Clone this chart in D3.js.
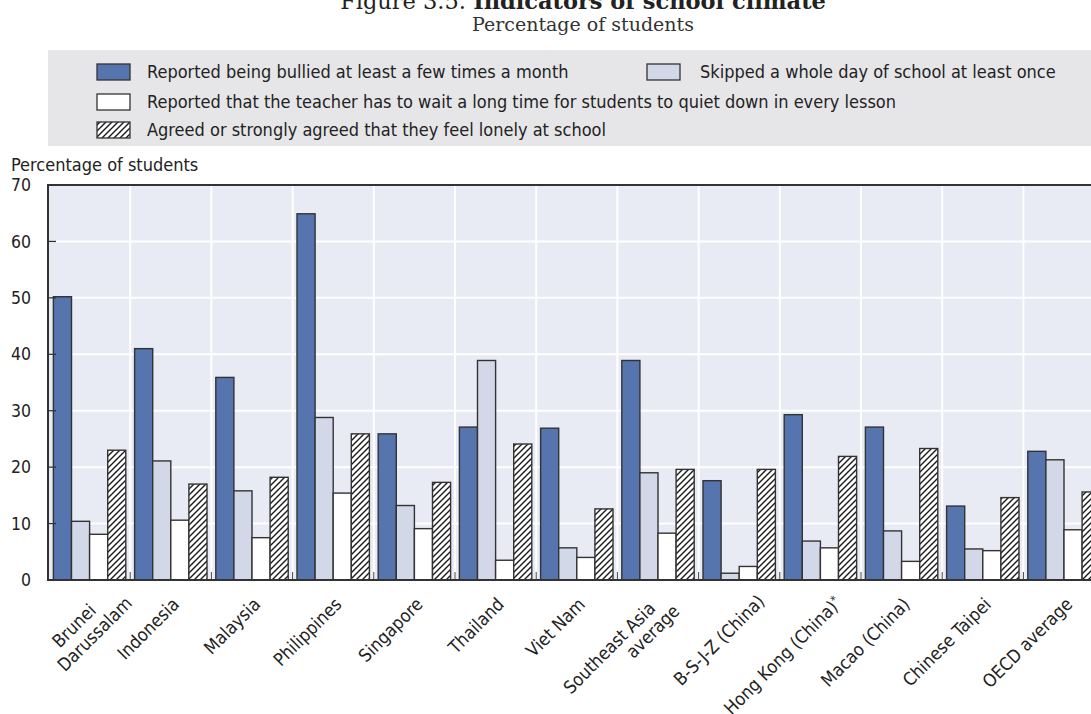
<!DOCTYPE html>
<html><head><meta charset="utf-8">
<script src="https://cdn.jsdelivr.net/npm/d3@7"></script>
<style>
body{margin:0;background:#fff;}
svg{display:block;}
.sans{font-family:"Liberation Sans Narrow","DejaVu Sans Condensed","Roboto",sans-serif;font-stretch:condensed;}
</style></head>
<body><svg id="c" width="1091" height="714"></svg>
<script>
const categories = ["Brunei|Darussalam","Indonesia","Malaysia","Philippines","Singapore","Thailand","Viet Nam","Southeast Asia|average","B-S-J-Z (China)","Hong Kong (China)*","Macao (China)","Chinese Taipei","OECD average"];
const bullied = [50.2,41.0,35.9,64.9,25.9,27.1,26.9,38.9,17.6,29.3,27.1,13.1,22.8];
const skipped = [10.4,21.1,15.8,28.8,13.2,38.9,5.7,19.0,1.2,6.9,8.7,5.5,21.3];
const waitLong = [8.1,10.6,7.5,15.4,9.1,3.5,4.0,8.3,2.4,5.7,3.3,5.2,8.9];
const lonely = [23.0,17.0,18.2,25.9,17.3,24.1,12.6,19.6,19.6,21.9,23.3,14.6,15.6];
const seriesNames = ["Reported being bullied at least a few times a month","Skipped a whole day of school at least once","Reported that the teacher has to wait a long time for students to quiet down in every lesson","Agreed or strongly agreed that they feel lonely at school"];
const yTicks = [0,10,20,30,40,50,60,70];

const fills = ["#5674ad","#d2d8e8","#ffffff","url(#hatch)"];
const seriesVals = [bullied, skipped, waitLong, lonely];

const svg = d3.select("#c");
const defs = svg.append("defs");
const P = 6;
const pat = defs.append("pattern").attr("id","hatch").attr("patternUnits","userSpaceOnUse")
  .attr("width",P).attr("height",P);
pat.append("rect").attr("width",P).attr("height",P).attr("fill","#fff");
pat.append("path").attr("d",`M-1,${P+1} L${P+1},-1 M-1,1 L1,-1 M${P-1},${P+1} L${P+1},${P-1}`).attr("stroke","#1a1a1a").attr("stroke-width",1.4);

// Title (cut at the top edge as in the reference)
const serif = "'DejaVu Serif','Liberation Serif',serif";
const title = svg.append("text").attr("x",583).attr("y",9).attr("text-anchor","middle")
  .style("font-family",serif).style("font-size","22.5px").attr("fill","#222");
title.append("tspan").text("Figure 3.5. ");
title.append("tspan").attr("font-weight","bold").text("Indicators of school climate");
svg.append("text").attr("x",583).attr("y",31).attr("text-anchor","middle")
  .style("font-family",serif).style("font-size","19px").attr("fill","#333")
  .text("Percentage of students");

// Legend
svg.append("rect").attr("x",48).attr("y",50).attr("width",1043).attr("height",96).attr("fill","#e6e6e8");
const legItems = [
  {i:0,x:97,tx:147,y:72},{i:1,x:647,tx:700,y:72},{i:2,x:97,tx:147,y:102},{i:3,x:97,tx:147,y:130}
];
const leg = svg.append("g").attr("class","sans");
legItems.forEach(d=>{
  leg.append("rect").attr("x",d.x).attr("y",d.y-8).attr("width",33).attr("height",16)
    .attr("fill",fills[d.i]).attr("stroke","#333").attr("stroke-width",1.3);
  leg.append("text").attr("x",d.tx).attr("y",d.y).attr("dy","0.35em")
    .style("font-size","18px").attr("fill","#222").text(seriesNames[d.i]);
});

// Scales
const y = d3.scaleLinear().domain([0,70]).range([580,185]);
const x0 = d3.scaleBand().domain(d3.range(categories.length)).range([49, 49+13*81.2]).paddingInner(0).paddingOuter(0);
const x1 = d3.scaleBand().domain(d3.range(4)).range([0, x0.bandwidth()]).paddingInner(0).paddingOuter(0.243);

// plot bg
svg.append("rect").attr("x",48).attr("y",y(70)).attr("width",1091-48).attr("height",y(0)-y(70)).attr("fill","#e8eaf4");
// gridlines
svg.append("g").selectAll("line").data(yTicks.slice(1,-1)).join("line")
  .attr("x1",48).attr("x2",1091).attr("y1",d=>y(d)).attr("y2",d=>y(d)).attr("stroke","#fff").attr("stroke-width",2);
svg.append("g").selectAll("line").data(d3.range(1,categories.length)).join("line")
  .attr("x1",d=>x0(d)).attr("x2",d=>x0(d)).attr("y1",y(70)).attr("y2",y(0)).attr("stroke","#fff").attr("stroke-width",2);

// bars
const g = svg.append("g");
categories.forEach((c,ci)=>{
  seriesVals.forEach((vals,si)=>{
    g.append("rect").attr("x",x0(ci)+x1(si)).attr("width",x1.bandwidth())
      .attr("y",y(vals[ci])).attr("height",y(0)-y(vals[ci]))
      .attr("fill",fills[si]).attr("stroke","#333").attr("stroke-width",1.4);
  });
});

// x ticks (inward)
svg.append("g").selectAll("line").data(d3.range(1,categories.length)).join("line")
  .attr("x1",d=>x0(d)).attr("x2",d=>x0(d)).attr("y1",y(0)-8).attr("y2",y(0)).attr("stroke","#444").attr("stroke-width",1);

// frame
svg.append("line").attr("x1",47).attr("x2",1091).attr("y1",y(70)).attr("y2",y(70)).attr("stroke","#333").attr("stroke-width",2);
svg.append("line").attr("x1",48).attr("x2",48).attr("y1",y(70)).attr("y2",y(0)).attr("stroke","#333").attr("stroke-width",2);
svg.append("line").attr("x1",47).attr("x2",1091).attr("y1",y(0)).attr("y2",y(0)).attr("stroke","#333").attr("stroke-width",2);

// y axis
const ya = svg.append("g").attr("class","sans");
ya.selectAll("line").data(yTicks.slice(1,-1)).join("line")
  .attr("x1",48).attr("x2",56).attr("y1",d=>y(d)).attr("y2",d=>y(d)).attr("stroke","#333").attr("stroke-width",1.3);
ya.selectAll("text").data(yTicks).join("text").attr("x",31).attr("y",d=>y(d)).attr("dy","0.35em")
  .attr("text-anchor","end").style("font-size","17.5px").attr("fill","#222").text(d=>d);
svg.append("text").attr("class","sans").attr("x",11).attr("y",171).style("font-size","18px").attr("fill","#222").text("Percentage of students");

// x labels: per-line anchor offsets (dx from band centre, absolute y)
const labelLayout = {0:[[3,607],[39,600]], 7:[[-6,605],[18,608]], 8:[[22,598]], 9:[[18,600]]};
const xl = svg.append("g").attr("class","sans");
categories.forEach((c,ci)=>{
  const cx = x0(ci)+x0.bandwidth()/2;
  const lines = c.split("|");
  const lay = labelLayout[ci] || [[5,601]];
  lines.forEach((ln,li)=>{
    const [dx,ay] = lay[li];
    const t = xl.append("text").attr("transform",`translate(${cx+dx},${ay}) rotate(-45)`)
      .attr("text-anchor","end").attr("dy","0.35em").style("font-size","18px").attr("fill","#222");
    if(ln.endsWith("*")){
      t.append("tspan").text(ln.slice(0,-1));
      t.append("tspan").attr("dy","-0.45em").style("font-size","12px").text("*");
    } else t.text(ln);
  });
});
</script></body></html>
